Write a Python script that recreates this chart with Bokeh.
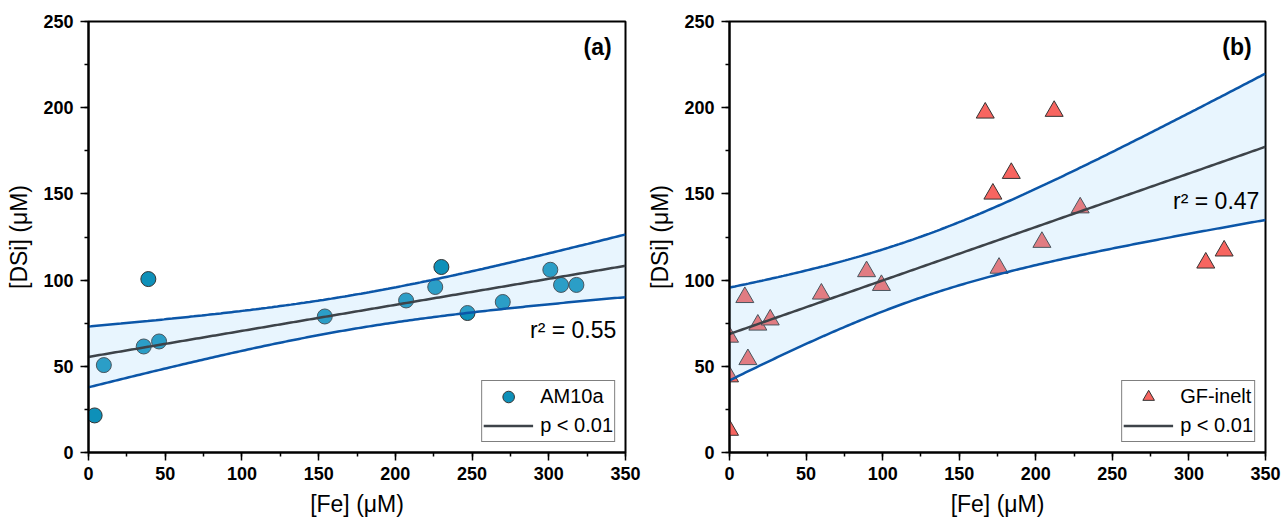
import numpy as np
from bokeh.plotting import figure
from bokeh.layouts import row
from bokeh.models import Range1d, SingleIntervalTicker, Label, Legend, LegendItem, ColumnDataSource
from bokeh.embed import file_html
from bokeh.resources import INLINE

# ---------------- data ----------------
am_fe = [4, 10, 36, 46, 39, 154, 207, 226, 230, 247, 270, 301, 308, 318]
am_dsi = [21.5, 50.7, 61.5, 64.4, 100.6, 78.9, 88.2, 96, 107.6, 80.9, 87.3, 106, 97.2, 97.2]

gf_fe = [0, 0, 0, 10, 12, 18.5, 26.6, 60, 89.5, 99.2, 167, 212, 172, 184, 176, 204, 229, 311, 323]
gf_dsi = [13, 44, 67, 90, 54, 74, 77, 92, 105, 97, 197, 198, 150, 162, 107, 122, 142, 110, 117]

am_label = "AM10a"
gf_label = "GF-inelt"
am_r2_text = "r\u00b2 = 0.55"
gf_r2_text = "r\u00b2 = 0.47"
p_text = "p < 0.01"
panel_a = "(a)"
panel_b = "(b)"
x_title = "[Fe] (\u03bcM)"
y_title = "[DSi] (\u03bcM)"
x_max = 350
y_max = 250
tick_step = 50
t_am = 2.179   # Student t, df = 12, 95 %
t_gf = 2.110   # Student t, df = 17, 95 %

FONT = "Liberation Sans"


def fit_band(x, y, t, grid):
    x = np.asarray(x, float)
    y = np.asarray(y, float)
    n = len(x)
    b, a = np.polyfit(x, y, 1)
    resid = y - (a + b * x)
    s = np.sqrt(np.sum(resid ** 2) / (n - 2))
    xbar = x.mean()
    sxx = np.sum((x - xbar) ** 2)
    yhat = a + b * grid
    h = t * s * np.sqrt(1.0 / n + (grid - xbar) ** 2 / sxx)
    return yhat, yhat - h, yhat + h


def make_panel(xs, ys, t, marker, color, label, r2_text, r2_pos, panel_text,
               width, border_left, border_right):
    p = figure(width=width, height=524, output_backend="svg", toolbar_location=None,
               x_range=Range1d(0, x_max), y_range=Range1d(0, y_max),
               min_border_left=border_left, min_border_right=border_right,
               min_border_top=21, min_border_bottom=72)
    p.grid.visible = False
    p.outline_line_color = "black"
    p.outline_line_width = 2

    grid = np.linspace(0, x_max, 200)
    yhat, lo, hi = fit_band(xs, ys, t, grid)
    band = ColumnDataSource(dict(x=grid, y=yhat, lo=lo, hi=hi))
    pts = ColumnDataSource(dict(x=xs, y=ys))

    sc = p.scatter("x", "y", source=pts, marker=marker,
                   size=15 if marker == "circle" else 18,
                   fill_color=color, line_color="#333333", line_width=1)
    p.varea(x="x", y1="lo", y2="hi", source=band, fill_color="#98d2fb", fill_alpha=0.22)
    p.line("x", "lo", source=band, line_color="#0b56a8", line_width=2.5)
    p.line("x", "hi", source=band, line_color="#0b56a8", line_width=2.5)
    ln = p.line("x", "y", source=band, line_color="#3d4349", line_width=2.5)

    for ax in (p.xaxis[0], p.yaxis[0]):
        ax.ticker = SingleIntervalTicker(interval=tick_step, num_minor_ticks=2)
        ax.axis_line_width = 2
        ax.axis_line_color = "black"
        ax.major_tick_in = 0
        ax.major_tick_out = 8
        ax.minor_tick_in = 0
        ax.minor_tick_out = 4
        ax.major_tick_line_width = 1.5
        ax.minor_tick_line_width = 1.5
        ax.major_tick_line_color = "black"
        ax.minor_tick_line_color = "black"
        ax.major_label_text_font = FONT
        ax.major_label_text_font_style = "bold"
        ax.major_label_text_font_size = "18px"
        ax.major_label_text_color = "black"
        ax.axis_label_text_font = FONT
        ax.axis_label_text_font_style = "normal"
        ax.axis_label_text_font_size = "23px"
        ax.axis_label_text_color = "black"
    p.xaxis.axis_label = x_title
    p.yaxis.axis_label = y_title
    p.xaxis.major_label_standoff = 6
    p.xaxis.axis_label_standoff = 8
    p.yaxis.major_label_standoff = 7
    p.yaxis.axis_label_standoff = 8

    p.add_layout(Label(x=341, y=243, text=panel_text, text_align="right", text_baseline="top",
                       text_font=FONT, text_font_style="bold", text_font_size="23px",
                       text_color="black"))
    p.add_layout(Label(x=r2_pos[0], y=r2_pos[1], text=r2_text, text_align="right",
                       text_baseline="alphabetic", text_font=FONT, text_font_size="23px",
                       text_color="black"))

    legend = Legend(items=[LegendItem(label=label, renderers=[sc]),
                           LegendItem(label=p_text, renderers=[ln])],
                    location="bottom_right", margin=10, padding=1, spacing=0,
                    glyph_width=50, glyph_height=29, label_height=22, label_standoff=7,
                    label_text_font=FONT, label_text_font_size="20px", label_text_color="black",
                    border_line_color="black", border_line_width=1.2,
                    background_fill_color="white", background_fill_alpha=1.0)
    p.add_layout(legend, "center")
    return p


p1 = make_panel(am_fe, am_dsi, t_am, "circle", "#0e90b9", am_label, am_r2_text, (344, 71),
                panel_a, 641, 88, 16)
p2 = make_panel(gf_fe, gf_dsi, t_gf, "triangle", "#f76560", gf_label, gf_r2_text, (346, 146),
                panel_b, 640, 88, 16)

layout = row(p1, p2)
open("out.html", "w").write(file_html(layout, INLINE))
